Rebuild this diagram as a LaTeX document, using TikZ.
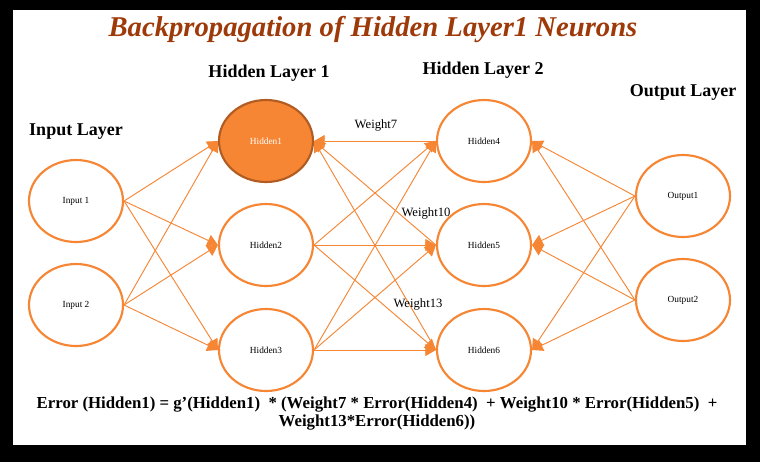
\documentclass[tikz,border=0pt]{standalone}
\usepackage{fontspec}
\setmainfont{Liberation Serif}
\usetikzlibrary{shapes.geometric,arrows.meta}
\definecolor{org}{RGB}{246,134,52}
\definecolor{dorg}{RGB}{176,92,34}
\definecolor{ttl}{RGB}{158,58,10}
\begin{document}
\begin{tikzpicture}[x=0.75pt,y=-0.75pt,
  neuron/.style={ellipse,draw=org,line width=1.6pt,fill=white,minimum width=70.5pt,minimum height=61.5pt,inner sep=0pt,font=\fontsize{7}{8}\selectfont},
  conn/.style={draw=org,line width=0.7pt,-{Triangle[length=8pt,width=9pt]}},
  layer/.style={font=\fontsize{13.5}{16}\selectfont\bfseries},
  wlab/.style={font=\fontsize{9.5}{11}\selectfont,inner sep=0pt}]
\fill[black] (0,0) rectangle (760,462);
\fill[white] (13,10) rectangle (746,445);
\useasboundingbox (0,0) rectangle (760,462);
% title
\node[text=ttl,font=\fontsize{21.5}{24}\selectfont\bfseries\itshape] (title) at (373,29) {Backpropagation of Hidden Layer1 Neurons};
% layer labels
\node[layer] (lin) at (76,132) {Input Layer};
\node[layer] (lh1) at (269,73) {Hidden Layer 1};
\node[layer] (lh2) at (483,70) {Hidden Layer 2};
\node[layer] (lout) at (683,92) {Output Layer};
% neurons
\node[neuron] (i1) at (76,201) {Input 1};
\node[neuron] (i2) at (76,305) {Input 2};
\node[neuron,fill=org,draw=dorg,text=white] (h1) at (266,141) {Hidden1};
\node[neuron] (h2) at (266,245) {Hidden2};
\node[neuron] (h3) at (266,350) {Hidden3};
\node[neuron] (h4) at (484,141) {Hidden4};
\node[neuron] (h5) at (484,245) {Hidden5};
\node[neuron] (h6) at (484,350) {Hidden6};
\node[neuron] (o1) at (683,196) {Output1};
\node[neuron] (o2) at (683,300) {Output2};
% input -> hidden layer 1
\foreach \a in {i1,i2}{\foreach \b in {h1,h2,h3}{\draw[conn] (\a.east) -- (\b.west);}}
% hidden layer 1 -> hidden layer 2
\foreach \a in {h2,h3}{\foreach \b in {h4,h5,h6}{\draw[conn] (\a.east) -- (\b.west);}}
% backprop hidden layer 2 -> Hidden1
\foreach \a in {h4,h5,h6}{\draw[conn] (\a.west) -- (h1.east);}
% output -> hidden layer 2
\foreach \a in {o1,o2}{\foreach \b in {h4,h5,h6}{\draw[conn] (\a.west) -- (\b.east);}}
% weights
\node[wlab] (w7) at (376,125) {Weight7};
\node[wlab] (w10) at (426,213) {Weight10};
\node[wlab] (w13) at (418,304) {Weight13};
% equation
\node[align=center,font=\fontsize{12.6}{13.5}\selectfont\bfseries] (eq) at (377,414) {Error (Hidden1) = g’(Hidden1)~ * (Weight7 * Error(Hidden4)~ + Weight10 * Error(Hidden5)~ +\\ Weight13*Error(Hidden6))};
\end{tikzpicture}
\end{document}
